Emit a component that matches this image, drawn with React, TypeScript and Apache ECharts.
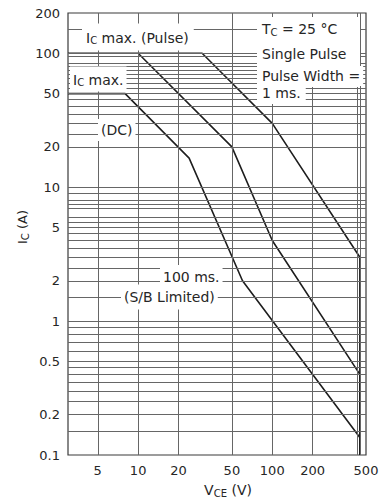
import React, { useEffect, useRef } from 'react';
import * as echarts from 'echarts';

// Axis tick labels
const xTickValues = [5, 10, 20, 50, 100, 200, 500];
const yTickValues = [0.1, 0.2, 0.5, 1, 2, 5, 10, 20, 50, 100, 200];
// Printed grid lines of the log paper
const xGridValues = [5, 10, 20, 50, 100, 200, 430, 450];
const yGridValues = [
  0.15, 0.2, 0.25, 0.3, 0.35, 0.4, 0.45, 0.5, 0.6, 0.7, 0.8, 0.9,
  1, 1.5, 2, 2.5, 3, 3.5, 4, 4.5, 5, 5.5, 6, 7, 7.5, 8, 9,
  10, 20, 25, 30, 35, 40, 45, 50, 55, 60, 65, 70, 75, 80, 85, 95, 100, 150,
];

// Safe operating area curves (VCE in V, IC in A)
const pulseVce = [3, 30, 100, 450, 450];
const pulseIc = [100, 100, 30, 3, 0.1];
const ms100Vce = [10, 50, 100, 450, 450];
const ms100Ic = [100, 20, 4, 0.4, 0.1];
const dcVce = [3, 8, 24, 60, 450, 450];
const dcIc = [50, 50, 16.5, 2, 0.135, 0.1];

const FONT = '"DejaVu Sans", Verdana, sans-serif';
const TXT = '#262626';
const GRID = '#666666';
const CURVE = '#1e1e1e';

const zip = (a: number[], b: number[]) => a.map((v, i) => [v, b[i]]);
const fmt = (v: number) => String(+Number(v).toPrecision(3));

const rich = {
  b: { fontSize: 14, fontFamily: FONT, fill: TXT, lineHeight: 16, verticalAlign: 'middle' },
  s: { fontSize: 10, fontFamily: FONT, fill: TXT, lineHeight: 10, verticalAlign: 'bottom' },
  a: { fontSize: 13, fontFamily: FONT, fill: TXT, lineHeight: 16, verticalAlign: 'middle' },
};

const label = (x: number, y: number, text: string, extra: any = {}) => ({
  type: 'text',
  x,
  y,
  z: 100,
  silent: true,
  style: {
    text,
    rich,
    fill: TXT,
    fontSize: 14,
    fontFamily: FONT,
    align: 'left',
    verticalAlign: 'middle',
    backgroundColor: '#fff',
    padding: [3, 3],
    ...extra,
  },
});

export default function App() {
  const ref = useRef<HTMLDivElement>(null);

  useEffect(() => {
    if (!ref.current) return;
    const chart = echarts.init(ref.current, null, { renderer: 'svg' });
    const curveStyle = { color: CURVE, width: 1.6 };
    const option: any = {
      animation: false,
      backgroundColor: '#fff',
      grid: {
        left: 68,
        top: 13,
        right: 16,
        bottom: 49,
        show: true,
        borderColor: '#3a3a3a',
        borderWidth: 1.2,
        containLabel: false,
        outerBoundsMode: 'none',
      },
      xAxis: {
        type: 'log',
        logBase: 10,
        min: 3,
        max: 500,
        axisLine: { show: false },
        axisTick: { show: false },
        splitLine: { show: false },
        minorTick: { show: false },
        minorSplitLine: { show: false },
        axisLabel: {
          customValues: xTickValues,
          formatter: (v: number) => fmt(v),
          color: TXT,
          fontSize: 13,
          fontFamily: FONT,
          margin: 9,
        },
      },
      yAxis: {
        type: 'log',
        logBase: 10,
        min: 0.1,
        max: 200,
        axisLine: { show: false },
        axisTick: { show: false },
        splitLine: { show: false },
        minorTick: { show: false },
        minorSplitLine: { show: false },
        axisLabel: {
          customValues: yTickValues,
          formatter: (v: number) => fmt(v),
          color: TXT,
          fontSize: 13,
          fontFamily: FONT,
          margin: 8,
        },
      },
      series: [
        {
          type: 'line',
          name: 'DC',
          data: zip(dcVce, dcIc),
          symbol: 'none',
          lineStyle: curveStyle,
          silent: true,
          markLine: {
            silent: true,
            symbol: ['none', 'none'],
            label: { show: false },
            emphasis: { disabled: true },
            lineStyle: { color: GRID, width: 1, type: 'solid' },
            data: [
              ...xGridValues.map((v) => ({ xAxis: v })),
              ...yGridValues.map((v) => ({ yAxis: v })),
            ],
          },
        },
        {
          type: 'line',
          name: '100 ms',
          data: zip(ms100Vce, ms100Ic),
          symbol: 'none',
          lineStyle: curveStyle,
          silent: true,
        },
        {
          type: 'line',
          name: '1 ms',
          data: zip(pulseVce, pulseIc),
          symbol: 'none',
          lineStyle: curveStyle,
          silent: true,
        },
      ],
      graphic: [
        {
          type: 'rect',
          z: 99,
          silent: true,
          shape: { x: 257, y: 17, width: 103, height: 70 },
          style: { fill: '#fff' },
        },
        label(82, 37, '{b|I}{s|C}{b| max. (Pulse)}', { padding: [6, 5, 5, 4] }),
        label(70, 79, '{b|I}{s|C}{b| max.}', { padding: [5, 3, 4, 3] }),
        label(98, 130, '{b|(DC)}', { padding: [3, 3] }),
        label(259, 29, '{b|T}{s|C}{b| = 25 °C}', { padding: [2, 3] }),
        label(259, 54, '{b|Single Pulse}', { padding: [2, 3] }),
        label(259, 76, '{b|Pulse Width =}', { padding: [2, 3] }),
        label(257, 93, '{b|1 ms.}', { padding: [3, 5, 3, 5] }),
        label(160, 276, '{b|100 ms.}', { padding: [4, 3, 2, 3] }),
        label(121, 297, '{b|(S/B Limited)}', { padding: [4, 3, 5, 3] }),
        {
          type: 'text',
          x: 22,
          y: 227,
          rotation: Math.PI / 2,
          z: 100,
          silent: true,
          style: {
            text: '{a|I}{s|C}{a| (A)}',
            rich,
            fill: TXT,
            align: 'center',
            verticalAlign: 'middle',
          },
        },
        {
          type: 'text',
          x: 228,
          y: 490,
          z: 100,
          silent: true,
          style: {
            text: '{b|V}{s|CE}{b| (V)}',
            rich,
            fill: TXT,
            align: 'center',
            verticalAlign: 'middle',
          },
        },
      ],
    };
    chart.setOption(option);
    return () => chart.dispose();
  }, []);

  return (
    <div
      ref={ref}
      style={{ position: 'fixed', left: 0, top: 0, width: 382, height: 504, background: '#fff' }}
    />
  );
}
